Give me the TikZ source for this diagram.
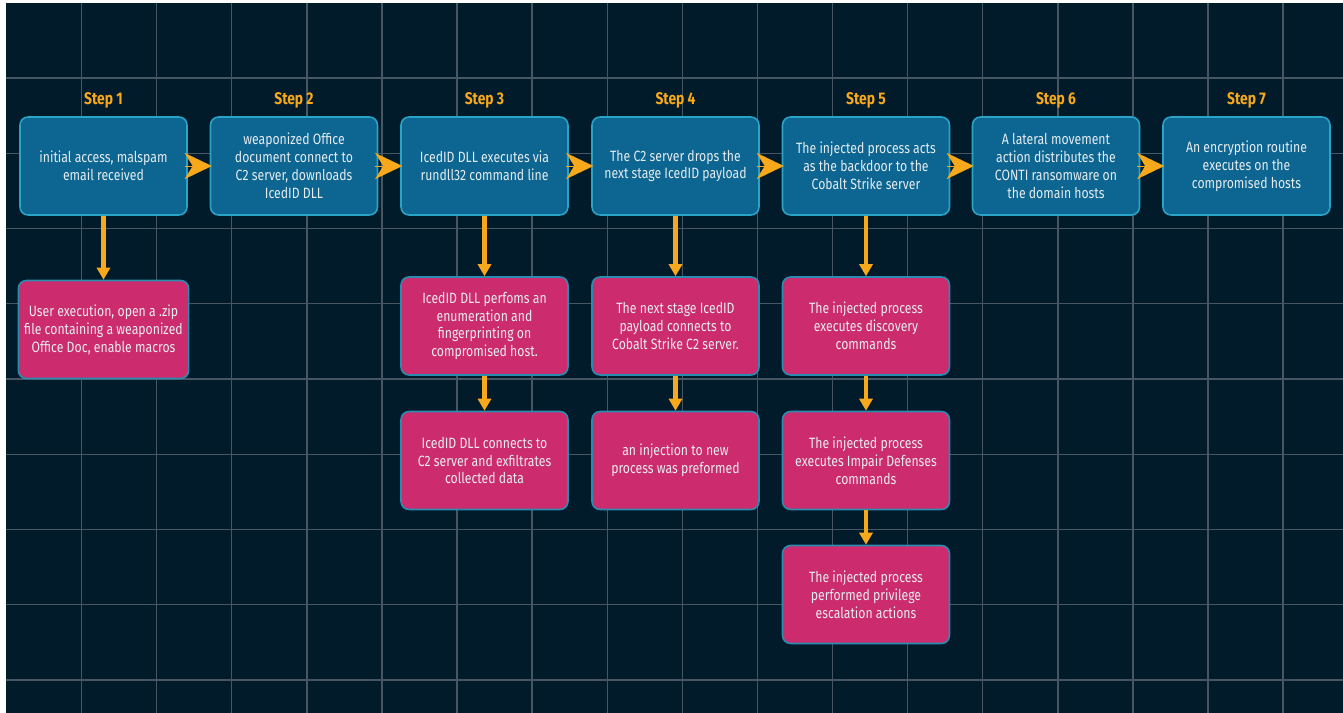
\documentclass[tikz,border=0pt]{standalone}
\usepackage{fontspec}
\setmainfont{Fira Sans}[FakeStretch=0.82]
\usepackage{tikz}
\usetikzlibrary{positioning,arrows.meta}

\definecolor{bgnavy}{HTML}{021B2B}
\definecolor{gridc}{HTML}{465663}
\definecolor{stepblue}{HTML}{0D6591}
\definecolor{stepedge}{HTML}{29A3C6}
\definecolor{actpink}{HTML}{CC2B6E}
\definecolor{actedge}{HTML}{2A8DB0}
\definecolor{orng}{HTML}{F7A81B}
\definecolor{txtw}{HTML}{E4ECF0}

\begin{document}
\begin{tikzpicture}[
  x=0.02cm, y=-0.02cm,
  stepbox/.style={draw=stepedge, fill=stepblue, line width=0.9pt, rectangle, rounded corners=0.16cm, minimum width=3.34cm, minimum height=1.96cm, align=center, text=txtw, font=\fontsize{8.5}{10.2}\selectfont},
  actbox/.style={draw=actedge, fill=actpink, line width=0.9pt, rectangle, rounded corners=0.16cm, minimum width=3.34cm, minimum height=1.96cm, align=center, text=txtw, font=\fontsize{8.5}{10.2}\selectfont},
  steplbl/.style={text=orng, font=\bfseries\fontsize{9.6}{12}\selectfont},
  gridline/.style={draw=gridc, line width=0.8pt},
  chev/.style={orng, line width=0.1pt, -{Stealth[length=0.54cm, width=0.52cm, inset=0.16cm]}},
  down/.style={orng, line width=2.3pt, -{Triangle[length=0.24cm, width=0.26cm]}}
]

% ================= BACKGROUND =================
\useasboundingbox[fill=white] (0,0) rectangle (1343,713);
\fill[bgnavy] (6,3) rectangle (1343,713);
\foreach \gx in {81.5,156.6,...,1290} \draw[gridline] (\gx,3) -- (\gx,713);
\foreach \gy in {78,153.25,...,690} \draw[gridline] (6,\gy) -- (1343,\gy);

% ================= STEP LABELS =================
\node[steplbl] (lbl1) at (103.5,100) {Step 1};
\node[steplbl] (lbl2) at (294,100) {Step 2};
\node[steplbl] (lbl3) at (484.5,100) {Step 3};
\node[steplbl] (lbl4) at (675.5,100) {Step 4};
\node[steplbl] (lbl5) at (866,100) {Step 5};
\node[steplbl] (lbl6) at (1056,100) {Step 6};
\node[steplbl] (lbl7) at (1246.5,100) {Step 7};

% ================= ROW 1 (steps) =================
\node[stepbox] (st1) at (103.5,166) {initial access, malspam\\email received};
\node[stepbox] (st2) at (294,166) {weaponized Office\\document connect to\\C2 server, downloads\\IcedID DLL};
\node[stepbox] (st3) at (484.5,166) {IcedID DLL executes via\\rundll32 command line};
\node[stepbox] (st4) at (675.5,166) {The C2 server drops the\\next stage IcedID payload};
\node[stepbox] (st5) at (866,166) {The injected process acts\\as the backdoor to the\\Cobalt Strike server};
\node[stepbox] (st6) at (1056,166) {A lateral movement\\action distributes the\\CONTI ransomware on\\the domain hosts};
\node[stepbox] (st7) at (1246.5,166) {An encryption routine\\executes on the\\compromised hosts};

% ================= SUB-ACTIONS =================
\node[actbox] (ac1) at (103.5,329.5) {User execution, open a .zip\\file containing a weaponized\\Office Doc, enable macros};
\node[actbox] (ac3a) at (484.5,326) {IcedID DLL perfoms an\\enumeration and\\fingerprinting on\\compromised host.};
\node[actbox] (ac3b) at (484.5,460.5) {IcedID DLL connects to\\C2 server and exfiltrates\\collected data};
\node[actbox] (ac4a) at (675.5,326) {The next stage IcedID\\payload connects to\\Cobalt Strike C2 server.};
\node[actbox] (ac4b) at (675.5,460.5) {an injection to new\\process was preformed};
\node[actbox] (ac5a) at (866,326) {The injected process\\executes discovery\\commands};
\node[actbox] (ac5b) at (866,460.5) {The injected process\\executes Impair Defenses\\commands};
\node[actbox] (ac5c) at (866,594.5) {The injected process\\performed privilege\\escalation actions};

% ================== ARROWS ==================
\draw[chev] ([xshift=-0.06cm]st1.east) -- ([xshift=0.04cm]st2.west);
\draw[chev] ([xshift=-0.06cm]st2.east) -- ([xshift=0.04cm]st3.west);
\draw[chev] ([xshift=-0.06cm]st3.east) -- ([xshift=0.04cm]st4.west);
\draw[chev] ([xshift=-0.06cm]st4.east) -- ([xshift=0.04cm]st5.west);
\draw[chev] ([xshift=-0.06cm]st5.east) -- ([xshift=0.04cm]st6.west);
\draw[chev] ([xshift=-0.06cm]st6.east) -- ([xshift=0.04cm]st7.west);

% downward chains
\draw[down] (st1) -- (ac1);
\draw[down] (st3) -- (ac3a);
\draw[down] (ac3a) -- (ac3b);
\draw[down] (st4) -- (ac4a);
\draw[down] (ac4a) -- (ac4b);
\draw[down] (st5) -- (ac5a);
\draw[down] (ac5a) -- (ac5b);
\draw[down] (ac5b) -- (ac5c);

\end{tikzpicture}
\end{document}
